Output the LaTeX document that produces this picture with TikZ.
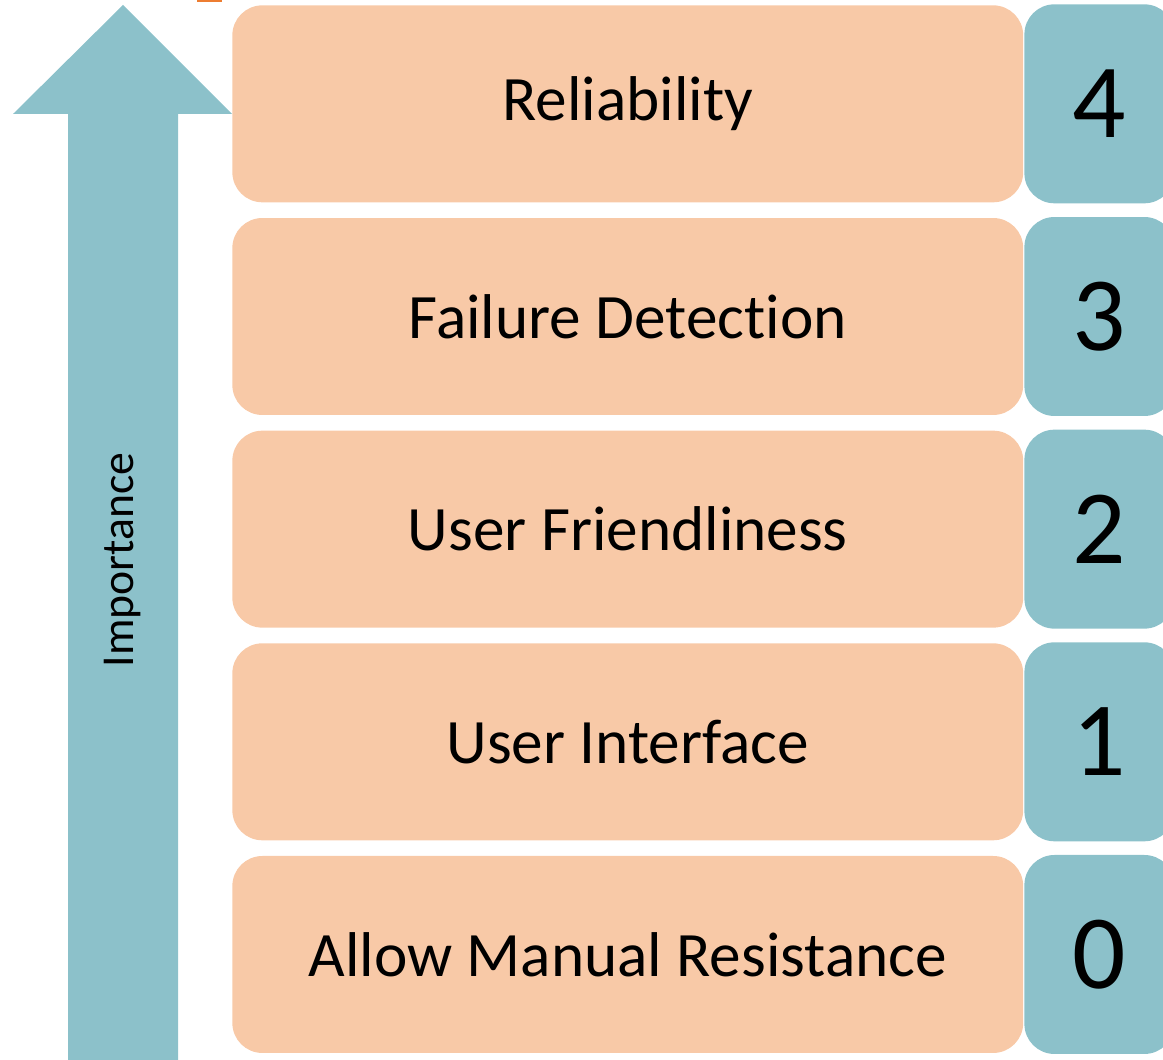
\documentclass[tikz,border=0pt]{standalone}
\usepackage{fontspec}
\setmainfont{Carlito}[Ligatures=NoCommon]
\usetikzlibrary{positioning}

\definecolor{peach}{RGB}{248,201,167}
\definecolor{teal}{RGB}{140,193,202}
\definecolor{tabmark}{RGB}{237,125,49}

\begin{document}
\begin{tikzpicture}[x=0.02cm, y=-0.02cm,
    level/.style={fill=peach, rectangle, rounded corners=0.6cm, minimum width=15.82cm, minimum height=3.94cm, inner sep=0pt, font=\fontsize{36}{40}\selectfont},
    rank/.style={fill=teal, rectangle, rounded corners=0.6cm, minimum width=3cm, minimum height=3.98cm, inner sep=0pt, font=\fontsize{60}{64}\selectfont}
]
\useasboundingbox (0,0) rectangle (1163,1060);
\clip (0,0) rectangle (1163,1060);

% small tab at the top edge
\fill[tabmark] (197,0) rectangle (222,2);

% importance arrow
\fill[teal] (68,1060) -- (68,114) -- (13,114) -- (123,5) -- (232,114) -- (178,114) -- (178,1060) -- cycle;
\node[rotate=90, font=\fontsize{26}{30}\selectfont] (imp) at (123,560) {Importance};

% levels, top to bottom
\node[level, anchor=north west] (rel) at (232,5) {Reliability};
\node[level, below=0.3cm of rel] (fail) {Failure Detection};
\node[level, below=0.3cm of fail] (friend) {User Friendliness};
\node[level, below=0.3cm of friend] (ui) {User Interface};
\node[level, below=0.3cm of ui] (manual) {Allow Manual Resistance};

% rank numbers
\node[rank, right=0.01cm of rel] (r4) {4};
\node[rank, right=0.01cm of fail] (r3) {3};
\node[rank, right=0.01cm of friend] (r2) {2};
\node[rank, right=0.01cm of ui] (r1) {1};
\node[rank, right=0.01cm of manual] (r0) {0};
\end{tikzpicture}
\end{document}
